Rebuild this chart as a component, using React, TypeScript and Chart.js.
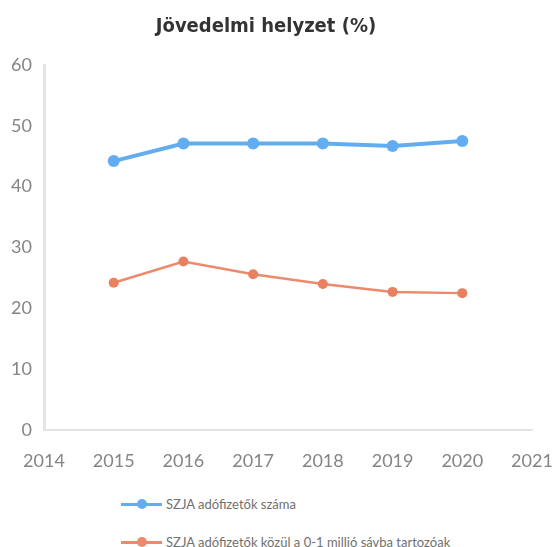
import React, { useEffect, useRef } from "react";
import { Chart, registerables } from "chart.js";

Chart.register(...registerables);

const TITLE = "Jövedelmi helyzet (%)";
const YEARS = [2015, 2016, 2017, 2018, 2019, 2020];
const SERIES_A_LABEL = "SZJA adófizetők száma";
const SERIES_A = [44.2, 47.1, 47.1, 47.1, 46.7, 47.5];
const SERIES_B_LABEL = "SZJA adófizetők közül a 0-1 millió sávba tartozóak";
const SERIES_B = [24.2, 27.7, 25.6, 24.0, 22.7, 22.5];
const X_MIN = 2014;
const X_MAX = 2021;
const Y_MIN = 0;
const Y_MAX = 60;
const Y_STEP = 10;

const BLUE = "#62adf2";
const ORANGE = "#ec8a6c";
const ORANGE_PT = "#e9805f";
const TICK_COLOR = "#858585";

export default function App() {
  const ref = useRef<HTMLCanvasElement | null>(null);

  useEffect(() => {
    if (!ref.current) return;
    const chart = new Chart(ref.current, {
      type: "line",
      data: {
        datasets: [
          {
            label: SERIES_A_LABEL,
            data: YEARS.map((y, i) => ({ x: y, y: SERIES_A[i] })),
            borderColor: BLUE,
            backgroundColor: BLUE,
            borderWidth: 4,
            pointRadius: 6,
            pointHoverRadius: 6,
            pointBorderWidth: 0,
            tension: 0,
          },
          {
            label: SERIES_B_LABEL,
            data: YEARS.map((y, i) => ({ x: y, y: SERIES_B[i] })),
            borderColor: ORANGE,
            backgroundColor: ORANGE_PT,
            borderWidth: 2.5,
            pointRadius: 5,
            pointHoverRadius: 5,
            pointBorderWidth: 0,
            tension: 0,
          },
        ],
      },
      options: {
        animation: false,
        responsive: false,
        maintainAspectRatio: false,
        layout: { padding: { left: 0, right: 26, top: 0, bottom: 0 } },
        plugins: {
          legend: { display: false },
          tooltip: { enabled: false },
          title: {
            display: true,
            text: TITLE,
            color: "#333333",
            font: { family: "'DejaVu Sans Condensed', 'DejaVu Sans'", size: 20, weight: "bold" },
            padding: { top: 15, bottom: 26 },
          },
        },
        scales: {
          x: {
            type: "linear",
            min: X_MIN,
            max: X_MAX,
            grid: { color: "rgba(0,0,0,0)", drawTicks: false },
            border: { display: true, color: "#e4e4e4", width: 2 },
            ticks: {
              stepSize: 1,
              color: TICK_COLOR,
              padding: 20,
              maxRotation: 0,
              font: { family: "Lato", size: 18 },
              callback: (v: any) => String(v),
            },
            afterFit: (axis: any) => {
              axis.height = 45;
              axis.paddingRight = 26;
              axis.paddingLeft = 0;
            },
          },
          y: {
            min: Y_MIN,
            max: Y_MAX,
            grid: { color: "rgba(0,0,0,0)", drawTicks: false },
            border: { display: true, color: "#e4e4e4", width: 3 },
            ticks: {
              stepSize: Y_STEP,
              color: TICK_COLOR,
              padding: 12,
              font: { family: "Lato", size: 18 },
            },
            afterFit: (axis: any) => {
              axis.width = 44;
            },
          },
        },
      },
    });
    return () => chart.destroy();
  }, []);

  const legendRow = (color: string, text: string, top: number, lw: number, pr: number) => (
    <div style={{ position: "absolute", left: 121, top: top - 10, height: 20, display: "flex", alignItems: "center" }}>
      <div style={{ position: "relative", width: 41, height: 20 }}>
        <div style={{ position: "absolute", left: 0, right: 0, top: 10 - lw / 2, height: lw, background: color }} />
        <div
          style={{
            position: "absolute",
            left: 20.5 - pr,
            top: 10 - pr,
            width: pr * 2,
            height: pr * 2,
            borderRadius: "50%",
            background: color,
          }}
        />
      </div>
      <span style={{ marginLeft: 4, fontFamily: "Lato", fontSize: 13, color: "#707070", whiteSpace: "nowrap" }}>{text}</span>
    </div>
  );

  return (
    <div style={{ position: "absolute", left: 0, top: 0, width: 558, height: 547, background: "#fff" }}>
      <canvas ref={ref} width={558} height={475} style={{ display: "block" }} />
      {legendRow(BLUE, SERIES_A_LABEL, 504, 3, 5)}
      {legendRow(ORANGE, SERIES_B_LABEL, 542, 3, 5)}
    </div>
  );
}
